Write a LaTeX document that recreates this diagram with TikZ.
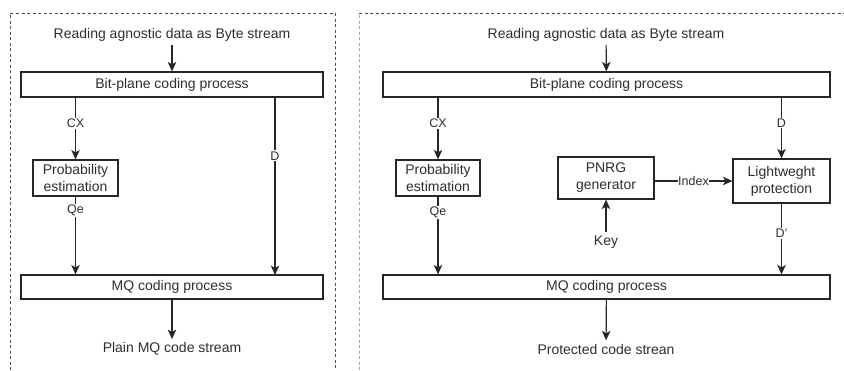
\documentclass[tikz,border=0pt]{standalone}
\usepackage{fontspec}
\setmainfont{Liberation Sans}
\usetikzlibrary{arrows.meta}
\definecolor{txt}{HTML}{2E2E2E}
\tikzset{
  x=1pt, y=-1pt,
  every node/.style={text=txt, font=\fontsize{14}{17}\selectfont},
  box/.style={draw=black!85, line width=1.2pt, inner sep=0pt, align=center},
  lbl/.style={fill=white, inner sep=1pt, font=\fontsize{12.5}{14}\selectfont},
  flow/.style={draw=black!85, line width=1.2pt, -{Stealth[length=9.5pt,width=8.5pt,inset=2.5pt]}},
  panel/.style={line width=1pt, dash pattern=on 3pt off 2.5pt},
}
\begin{document}
\begin{tikzpicture}
\useasboundingbox (0,0) rectangle (844,370);

% panel frames
\draw[panel, draw=black!70] (10,370) -- (10,13) -- (335,13) -- (335,370);
\draw[panel, draw=black!35] (359,370) -- (359,13);
\draw[panel, draw=black!70] (359,13) -- (844,13);

% ---------- plain coder ----------
\node (read1) at (172,35) {Reading agnostic data as Byte stream};
\node[box, minimum width=302pt, minimum height=25pt] (bp1) at (172,84.5) {Bit-plane coding process};
\node[box, minimum width=85pt, minimum height=36pt] (pe1) at (75.5,178) {Probability\\estimation};
\node[box, minimum width=302pt, minimum height=24pt] (mq1) at (172,287) {MQ coding process};
\node (out1) at (172,349) {Plain MQ code stream};

\coordinate (d1top) at (275,97);
\coordinate (d1bot) at (275,275);

\draw[flow] (read1) -- (bp1);
\draw[flow] (bp1.south -| pe1) -- node[lbl, pos=0.42] {CX} (pe1.north);
\draw[flow] (pe1.south) -- node[lbl, pos=0.18] {Qe} (pe1.south |- mq1.north);
\draw[flow] (d1top) -- node[lbl, pos=0.33] {D} (d1bot);
\draw[flow] (mq1) -- (out1);

% ---------- protected coder ----------
\node (read2) at (606,35) {Reading agnostic data as Byte stream};
\node[box, minimum width=447pt, minimum height=25pt] (bp2) at (606.5,84.5) {Bit-plane coding process};
\node[box, minimum width=84pt, minimum height=36pt] (pe2) at (438,178) {Probability\\estimation};
\node[box, minimum width=96pt, minimum height=42pt] (pnrg) at (606,178) {PNRG\\generator};
\node[box, minimum width=97pt, minimum height=44pt] (lw) at (781.5,181) {Lightweght\\protection};
\node[box, minimum width=447pt, minimum height=24pt] (mq2) at (606.5,287) {MQ coding process};
\node (key) at (606,242) {Key};
\node (out2) at (606,349) {Protected code strean};

\draw[flow] (read2) -- (bp2);
\draw[flow] (bp2.south -| pe2) -- node[lbl, pos=0.42] {CX} (pe2.north);
\draw[flow] (pe2.south) -- node[lbl, pos=0.2] {Qe} (pe2.south |- mq2.north);
\draw[flow] (bp2.south -| lw) -- node[lbl, pos=0.42] {D} (lw.north);
\draw[flow] (pnrg.east |- 0,181) -- node[lbl, inner xsep=0.5pt] {Index} (lw.west |- 0,181);
\draw[flow] (key.north) -- (pnrg.south);
\draw[flow] (lw.south) -- node[lbl, pos=0.42] {D'} (lw.south |- mq2.north);
\draw[flow] (mq2) -- (out2);
\end{tikzpicture}
\end{document}
